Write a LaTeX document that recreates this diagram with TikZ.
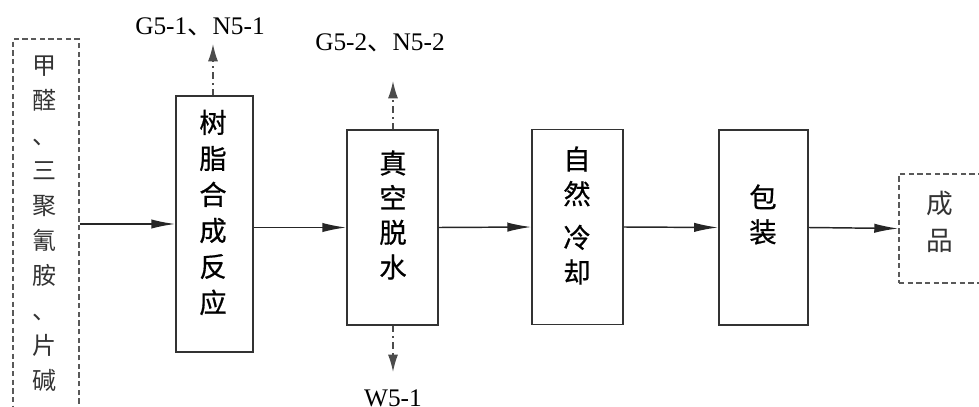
\documentclass[tikz,border=0pt]{standalone}
\usepackage{fontspec}
\setmainfont{Liberation Serif}
\newfontfamily\cjk[FakeBold=0.6]{Noto Sans CJK SC}
\newfontfamily\cjkl{Noto Sans CJK SC}
\usetikzlibrary{arrows.meta}
\begin{document}
\begin{tikzpicture}[x=0.75pt,y=-0.75pt,
 box/.style={draw=black!80,line width=1.1pt,rectangle,inner sep=0},
 dbox/.style={draw=black!65,line width=1.1pt,dash pattern=on 4pt off 2.5pt,rectangle,inner sep=0},
 arr/.style={draw=black!85,line width=1.1pt,-{Latex[length=18pt,width=7pt]}},
 varr/.style={draw=black!70,line width=1.1pt,dash pattern=on 5pt off 3pt on 1.5pt off 3pt,-{Latex[length=13pt,width=7.5pt]}},
 ctxt/.style={font=\cjk\fontsize{20.5}{26}\selectfont,align=center,inner sep=0},
 stxt/.style={font=\cjkl\fontsize{18}{26.25}\selectfont,align=center,inner sep=0,text=black!80},
 ltxt/.style={font=\fontsize{19}{21}\selectfont,inner sep=0}]
\useasboundingbox (0,0) rectangle (979,407);
\begin{scope}
\clip (0,0) rectangle (979,407);
% boxes
\node[dbox,minimum width=49.5pt,minimum height=315pt] (src) at (46,249) {};
\node[box,minimum width=57.75pt,minimum height=192pt] (b1) at (214.5,224) {};
\node[box,minimum width=68.25pt,minimum height=146.25pt] (b2) at (392.5,227.5) {};
\node[box,minimum width=68.25pt,minimum height=146.25pt] (b3) at (577.5,227) {};
\node[box,minimum width=67pt,minimum height=146.25pt] (b4) at (763.5,227.5) {};
\node[dbox,minimum width=62.25pt,minimum height=81.75pt] (out) at (940.5,228.5) {};
% texts
\node[stxt] (srct) at (44,224) {甲\\醛\\、\\三\\聚\\氰\\胺\\、\\片\\碱};
\node[ctxt,font=\cjk\fontsize{20.5}{27}\selectfont] (b1t) at (213,212.5) {树\\脂\\合\\成\\反\\应};
\node[ctxt] (b2t) at (393,215) {真\\空\\脱\\水};
\node[ctxt] (b3t) at (577,215.5) {自\\然\\[6.75pt]冷\\却};
\node[ctxt] (b4t) at (763,214.5) {包\\装};
\node[stxt,font=\cjkl\fontsize{20}{27.75}\selectfont] (outt) at (940,221.5) {成\\品};
% labels
\node[ltxt] (g1) at (200,27) {G5-1{\cjkl 、}N5-1};
\node[ltxt] (g2) at (380,43) {G5-2{\cjkl 、}N5-2};
\node[ltxt] (w1) at (393,398) {W5-1};
\coordinate (t1) at (213,44);
\coordinate (t2) at (393,81);
\coordinate (t3) at (393,372);
% connectors
\draw[arr] (src.east |- b1.west) -- (b1.west);
\draw[arr] (b1.east |- b2.west) -- (b2.west);
\draw[arr] (b2.east) -- (b3.west);
\draw[arr] (b3.east) -- (b4.west);
\draw[arr] (b4.east) -- (out.west);
\draw[varr] (b1.north -| t1) -- (t1);
\draw[varr] (b2.north -| t2) -- (t2);
\draw[varr] (b2.south -| t3) -- (t3);
\end{scope}
\end{tikzpicture}
\end{document}
